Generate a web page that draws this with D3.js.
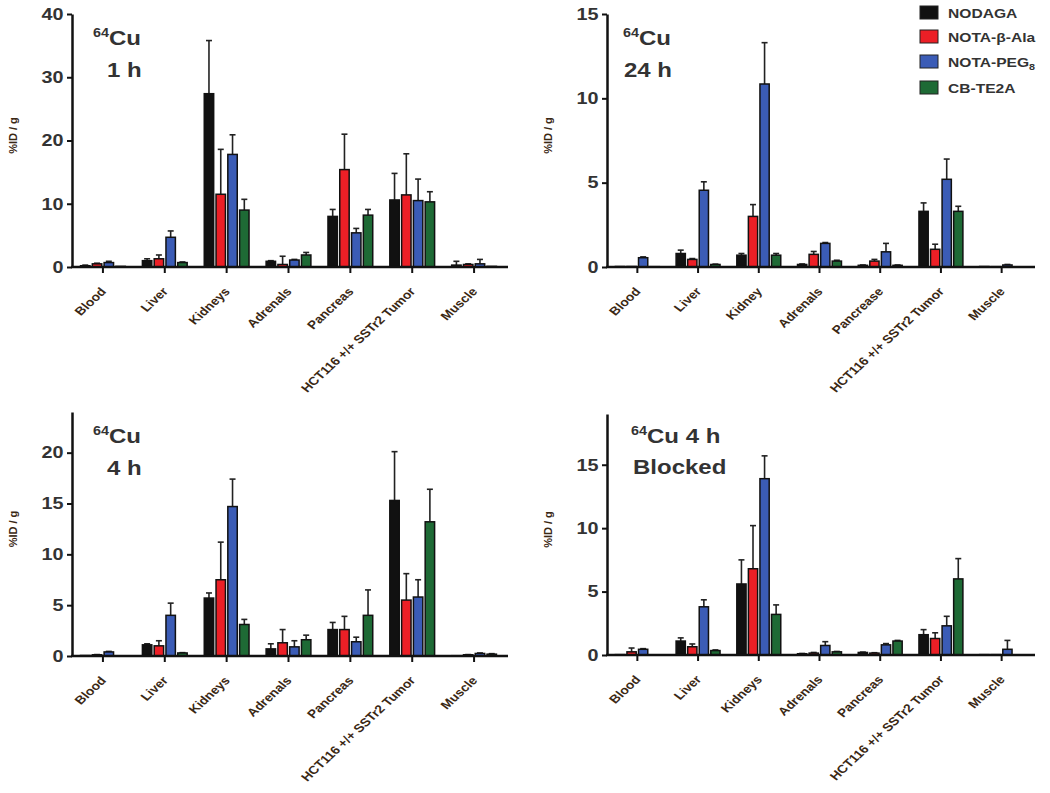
<!DOCTYPE html>
<html>
<head>
<meta charset="utf-8">
<script src="https://cdn.jsdelivr.net/npm/d3@7"></script>
<style>
  body { margin: 0; background: #fff; }
  svg { display: block; font-family: 'Liberation Sans', Arial, sans-serif; font-weight: bold; }
</style>
</head>
<body>
<div id="chart"></div>
<script>
// #region Data
const series = ['NODAGA', 'NOTA-β-Ala', 'NOTA-PEG8', 'CB-TE2A'];
const seriesColors = ['#111111', '#ec1f26', '#3b5cb6', '#1e6a35'];

const organs = ['Blood', 'Liver', 'Kidneys', 'Adrenals', 'Pancreas', 'HCT116 +/+ SSTr2 Tumor', 'Muscle'];
const organs24h = ['Blood', 'Liver', 'Kidney', 'Adrenals', 'Pancrease', 'HCT116 +/+ SSTr2 Tumor', 'Muscle'];

// mean %ID/g per series (rows) and organ (columns)
const mean1h = [
  [0.2, 1.0, 27.4, 0.9, 8.0, 10.6, 0.3],
  [0.5, 1.3, 11.5, 0.4, 15.4, 11.4, 0.4],
  [0.7, 4.7, 17.8, 1.1, 5.4, 10.5, 0.5],
  [0.1, 0.7, 9.0, 1.9, 8.2, 10.3, 0.1],
];
const sd1h = [
  [0.1, 0.3, 8.4, 0.1, 1.1, 4.2, 0.6],
  [0.1, 0.6, 7.1, 1.3, 5.6, 6.5, 0.1],
  [0.2, 1.0, 3.1, 0.1, 0.7, 3.4, 0.7],
  [0, 0.1, 1.7, 0.4, 0.9, 1.6, 0],
];

const mean24h = [
  [0.03, 0.8, 0.7, 0.15, 0.1, 3.3, 0.03],
  [0.03, 0.45, 3.0, 0.75, 0.35, 1.05, 0.02],
  [0.55, 4.55, 10.85, 1.4, 0.9, 5.2, 0.12],
  [0.02, 0.15, 0.7, 0.35, 0.1, 3.3, 0.01],
];
const sd24h = [
  [0, 0.2, 0.1, 0.03, 0.02, 0.5, 0],
  [0, 0.05, 0.7, 0.17, 0.1, 0.3, 0],
  [0.05, 0.5, 2.45, 0.05, 0.5, 1.2, 0.03],
  [0, 0.02, 0.1, 0.05, 0.02, 0.3, 0],
];

const mean4h = [
  [0.05, 1.1, 5.7, 0.7, 2.6, 15.3, 0.03],
  [0.12, 1.0, 7.5, 1.3, 2.6, 5.5, 0.12],
  [0.4, 4.0, 14.7, 0.9, 1.4, 5.8, 0.25],
  [0.02, 0.3, 3.1, 1.6, 4.0, 13.2, 0.18],
];
const sd4h = [
  [0, 0.1, 0.5, 0.5, 0.7, 4.8, 0],
  [0.02, 0.5, 3.7, 1.3, 1.3, 2.6, 0.02],
  [0.05, 1.2, 2.7, 0.6, 0.45, 1.7, 0.05],
  [0, 0.03, 0.5, 0.45, 2.5, 3.2, 0.05],
];

const meanBlocked = [
  [0.03, 1.1, 5.6, 0.1, 0.2, 1.6, 0.03],
  [0.25, 0.65, 6.8, 0.15, 0.15, 1.3, 0.03],
  [0.45, 3.8, 13.9, 0.75, 0.8, 2.3, 0.45],
  [0.02, 0.35, 3.2, 0.25, 1.1, 6.0, 0.01],
];
const sdBlocked = [
  [0, 0.25, 1.9, 0.02, 0.03, 0.4, 0],
  [0.3, 0.22, 3.4, 0.05, 0.03, 0.45, 0],
  [0.05, 0.55, 1.8, 0.3, 0.1, 0.75, 0.7],
  [0, 0.05, 0.75, 0.03, 0.05, 1.6, 0],
];

const ticks1h = [0, 10, 20, 30, 40];
const ticks24h = [0, 5, 10, 15];
const ticks4h = [0, 5, 10, 15, 20];
const ticksBlocked = [0, 5, 10, 15];
// #endregion

// #region SVG setup
const width = 1050;
const height = 793;
const stretch = 1.2; // the source figure is widened horizontally
const textColor = '#333';
const labelColor = '#3a2814';

const svg = d3.select('#chart').append('svg')
  .attr('width', width)
  .attr('height', height);
// #endregion

const panels = [
  { organs, mean: mean1h, sd: sd1h, ticks: ticks1h, ymax: 40, left: 72, right: 505, base: 267, top: 14,
    title: [['64', 'Cu', 93, 45], [null, '1 h', 107, 77]] },
  { organs: organs24h, mean: mean24h, sd: sd24h, ticks: ticks24h, ymax: 15, left: 607, right: 1032, base: 267, top: 14,
    title: [['64', 'Cu', 623, 45], [null, '24 h', 624, 77]] },
  { organs, mean: mean4h, sd: sd4h, ticks: ticks4h, ymax: 24, left: 72, right: 505, base: 656, top: 412,
    title: [['64', 'Cu', 93, 443], [null, '4 h', 107, 475]] },
  { organs, mean: meanBlocked, sd: sdBlocked, ticks: ticksBlocked, ymax: 19, left: 607, right: 1032, base: 655, top: 414,
    title: [['64', 'Cu 4 h', 631, 443], [null, 'Blocked', 633, 474]] },
];

panels.forEach(drawPanel);
drawLegend();

function drawPanel(p) {
  const g = svg.append('g');

  const x = d3.scaleBand()
    .domain(p.organs)
    .range([p.left, p.right])
    .paddingInner(0.2)
    .paddingOuter(0.1);
  const xs = d3.scaleBand()
    .domain(series)
    .range([0, x.bandwidth()])
    .padding(0.2);
  const y = d3.scaleLinear()
    .domain([0, p.ymax])
    .range([p.base, p.top]);

  // #region Bars and error bars
  series.forEach((s, si) => {
    const rows = p.organs.map((o, oi) => ({
      organ: o,
      mean: p.mean[si][oi],
      sd: p.sd[si][oi],
    }));
    const sg = g.append('g');

    sg.selectAll('line.err')
      .data(rows.filter(d => d.sd > 0))
      .enter()
      .append('line')
      .attr('class', 'err')
      .attr('x1', d => x(d.organ) + xs(s) + xs.bandwidth() / 2)
      .attr('x2', d => x(d.organ) + xs(s) + xs.bandwidth() / 2)
      .attr('y1', d => y(d.mean))
      .attr('y2', d => y(d.mean + d.sd))
      .attr('stroke', '#222')
      .attr('stroke-width', 1.6);

    sg.selectAll('line.cap')
      .data(rows.filter(d => d.sd > 0))
      .enter()
      .append('line')
      .attr('class', 'cap')
      .attr('x1', d => x(d.organ) + xs(s) + xs.bandwidth() / 2 - 3)
      .attr('x2', d => x(d.organ) + xs(s) + xs.bandwidth() / 2 + 3)
      .attr('y1', d => y(d.mean + d.sd))
      .attr('y2', d => y(d.mean + d.sd))
      .attr('stroke', '#222')
      .attr('stroke-width', 1.6);

    sg.selectAll('rect')
      .data(rows)
      .enter()
      .append('rect')
      .attr('x', d => x(d.organ) + xs(s))
      .attr('y', d => y(d.mean))
      .attr('width', xs.bandwidth())
      .attr('height', d => y(0) - y(d.mean))
      .attr('fill', seriesColors[si])
      .attr('stroke', '#111')
      .attr('stroke-width', 1.5);
  });
  // #endregion

  // #region Axes
  const yAxis = g.append('g')
    .attr('transform', `translate(${p.left},0)`)
    .call(d3.axisLeft(y).tickValues(p.ticks).tickSize(5).tickSizeOuter(0).tickPadding(2));
  yAxis.select('.domain').attr('stroke', '#111').attr('stroke-width', 2.5);
  yAxis.selectAll('.tick line').attr('stroke', '#111').attr('stroke-width', 2);
  yAxis.selectAll('.tick text')
    .attr('transform', `scale(${stretch},1)`)
    .attr('fill', textColor)
    .style('font-size', '16.5px')
    .style('font-weight', 'bold')
    .style('font-family', "'Liberation Sans', Arial, sans-serif");

  g.append('line')
    .attr('x1', p.left - 1)
    .attr('x2', p.right + 3)
    .attr('y1', p.base)
    .attr('y2', p.base)
    .attr('stroke', '#111')
    .attr('stroke-width', 2.5);

  p.organs.forEach(o => {
    const cx = x(o) + x.bandwidth() / 2;
    g.append('line')
      .attr('x1', cx).attr('x2', cx)
      .attr('y1', p.base).attr('y2', p.base + 6)
      .attr('stroke', '#111')
      .attr('stroke-width', 2);
    g.append('text')
      .text(o)
      .attr('text-anchor', 'end')
      .attr('transform', `translate(${cx + 4},${p.base + 25}) scale(${stretch},1) rotate(-48)`)
      .attr('fill', labelColor)
      .style('font-size', '11.5px');
  });

  g.append('text')
    .text('%ID / g')
    .attr('text-anchor', 'middle')
    .attr('transform', `translate(${p.left - 55},${(p.base + p.top) / 2 - 5}) rotate(-90)`)
    .attr('fill', labelColor)
    .style('font-size', '11px');
  // #endregion

  // #region Panel title
  p.title.forEach(([sup, main, tx, ty]) => {
    const t = g.append('text')
      .attr('transform', `translate(${tx},${ty}) scale(${stretch},1)`)
      .attr('fill', textColor)
      .style('font-size', '20px');
    if (sup) {
      t.append('tspan').text(sup).style('font-size', '12px').attr('dy', -8);
      t.append('tspan').text(main).attr('dy', 8);
    } else {
      t.append('tspan').text(main);
    }
  });
  // #endregion
}

function drawLegend() {
  const legend = svg.append('g').attr('transform', 'translate(920,6)');
  const rowY = [0, 24, 49, 75];
  series.forEach((s, i) => {
    legend.append('rect')
      .attr('x', 0).attr('y', rowY[i])
      .attr('width', 18).attr('height', 13)
      .attr('fill', seriesColors[i])
      .attr('stroke', '#222')
      .attr('stroke-width', 1);
    const t = legend.append('text')
      .attr('transform', `translate(28,${rowY[i] + 11.5}) scale(${stretch},1)`)
      .attr('fill', textColor)
      .style('font-size', '13px');
    if (s === 'NOTA-PEG8') {
      t.append('tspan').text('NOTA-PEG');
      t.append('tspan').text('8').style('font-size', '9px').attr('dy', 3);
    } else {
      t.text(s);
    }
  });
}
</script>
</body>
</html>
